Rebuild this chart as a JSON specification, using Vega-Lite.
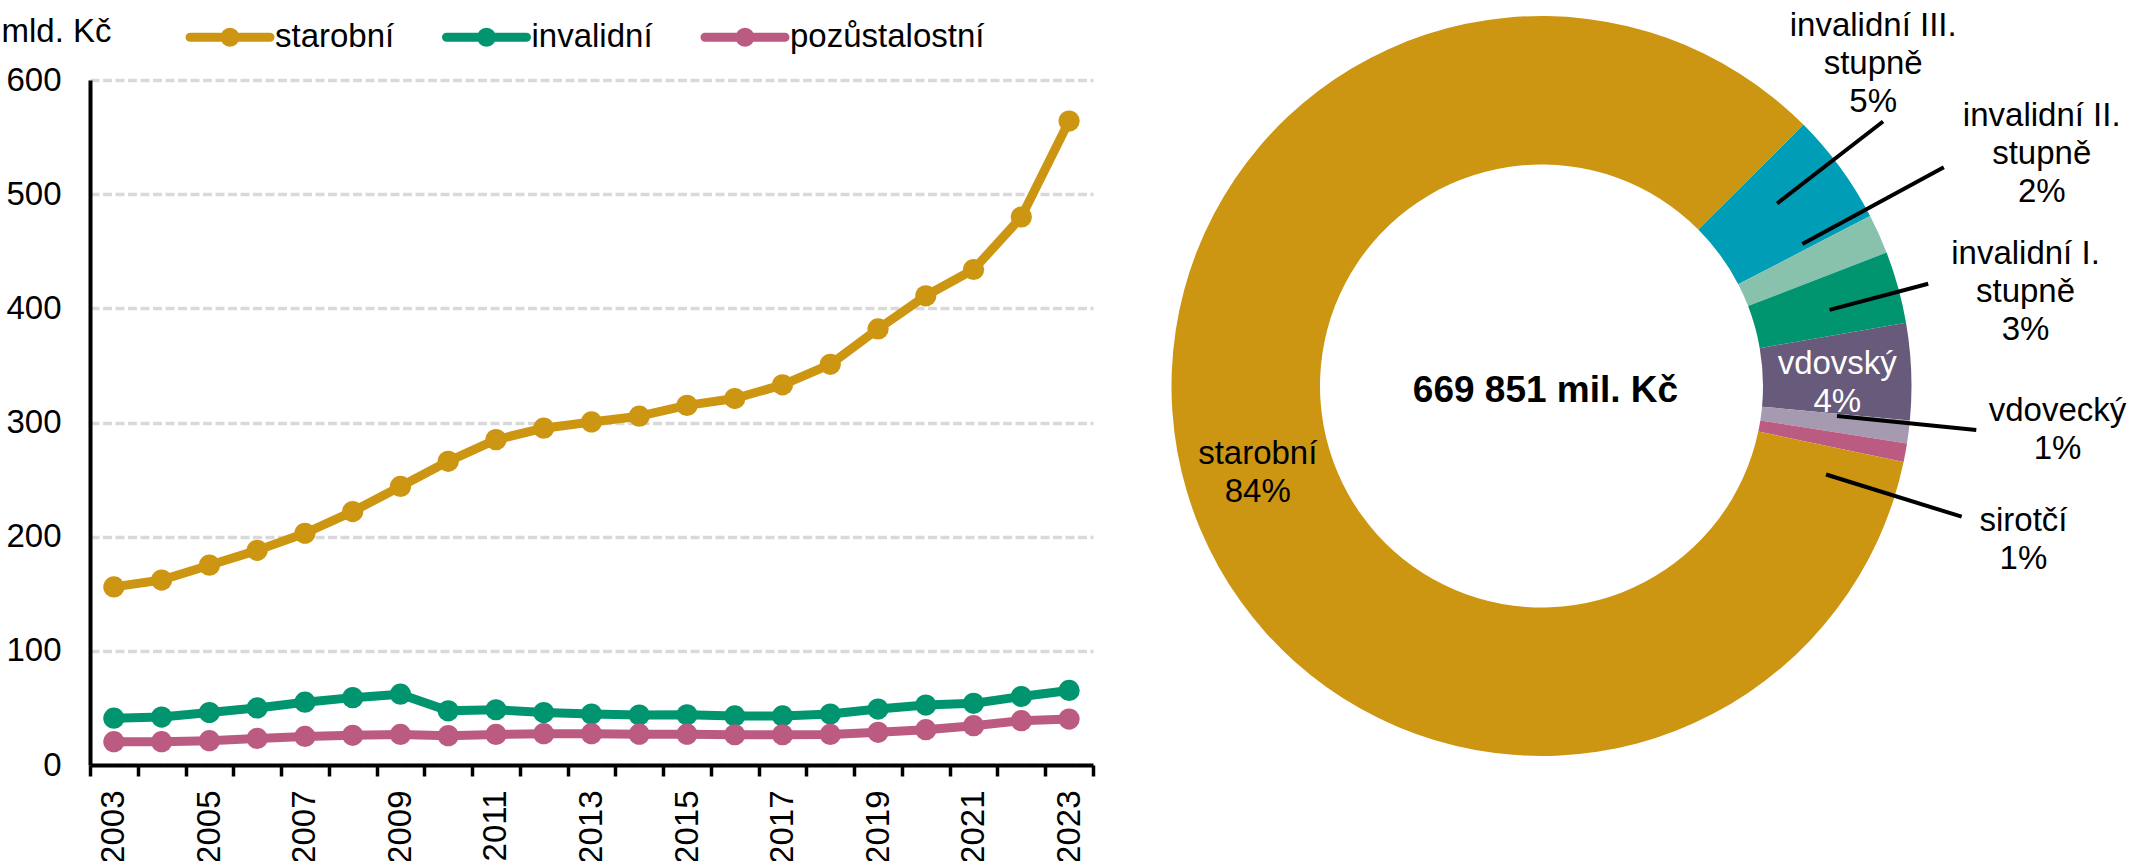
{
  "$schema": "https://vega.github.io/schema/vega-lite/v6.json",
  "padding": {"left": 1, "top": 0, "right": 0, "bottom": 0},
  "background": "white",
  "bounds": "flush",
  "spacing": 1,
  "config": {"font": "Liberation Sans", "view": {"stroke": null}},
  "hconcat": [
    {
      "width": 1003,
      "height": 685,
      "data": {"values": [
        {"rok": 2003, "typ": "starobní", "hodnota": 156}, {"rok": 2003, "typ": "invalidní", "hodnota": 41}, {"rok": 2003, "typ": "pozůstalostní", "hodnota": 20.4},
        {"rok": 2004, "typ": "starobní", "hodnota": 162}, {"rok": 2004, "typ": "invalidní", "hodnota": 42}, {"rok": 2004, "typ": "pozůstalostní", "hodnota": 20.4},
        {"rok": 2005, "typ": "starobní", "hodnota": 175}, {"rok": 2005, "typ": "invalidní", "hodnota": 46}, {"rok": 2005, "typ": "pozůstalostní", "hodnota": 21.3},
        {"rok": 2006, "typ": "starobní", "hodnota": 188}, {"rok": 2006, "typ": "invalidní", "hodnota": 50}, {"rok": 2006, "typ": "pozůstalostní", "hodnota": 23.3},
        {"rok": 2007, "typ": "starobní", "hodnota": 203}, {"rok": 2007, "typ": "invalidní", "hodnota": 55}, {"rok": 2007, "typ": "pozůstalostní", "hodnota": 25},
        {"rok": 2008, "typ": "starobní", "hodnota": 222}, {"rok": 2008, "typ": "invalidní", "hodnota": 59}, {"rok": 2008, "typ": "pozůstalostní", "hodnota": 26},
        {"rok": 2009, "typ": "starobní", "hodnota": 244}, {"rok": 2009, "typ": "invalidní", "hodnota": 62}, {"rok": 2009, "typ": "pozůstalostní", "hodnota": 26.8},
        {"rok": 2010, "typ": "starobní", "hodnota": 266}, {"rok": 2010, "typ": "invalidní", "hodnota": 47.5}, {"rok": 2010, "typ": "pozůstalostní", "hodnota": 25.7},
        {"rok": 2011, "typ": "starobní", "hodnota": 285}, {"rok": 2011, "typ": "invalidní", "hodnota": 48.4}, {"rok": 2011, "typ": "pozůstalostní", "hodnota": 26.8},
        {"rok": 2012, "typ": "starobní", "hodnota": 295}, {"rok": 2012, "typ": "invalidní", "hodnota": 46}, {"rok": 2012, "typ": "pozůstalostní", "hodnota": 27.4},
        {"rok": 2013, "typ": "starobní", "hodnota": 300.5}, {"rok": 2013, "typ": "invalidní", "hodnota": 44.6}, {"rok": 2013, "typ": "pozůstalostní", "hodnota": 27.4},
        {"rok": 2014, "typ": "starobní", "hodnota": 305.5}, {"rok": 2014, "typ": "invalidní", "hodnota": 43.7}, {"rok": 2014, "typ": "pozůstalostní", "hodnota": 27},
        {"rok": 2015, "typ": "starobní", "hodnota": 315}, {"rok": 2015, "typ": "invalidní", "hodnota": 44}, {"rok": 2015, "typ": "pozůstalostní", "hodnota": 27},
        {"rok": 2016, "typ": "starobní", "hodnota": 321}, {"rok": 2016, "typ": "invalidní", "hodnota": 43}, {"rok": 2016, "typ": "pozůstalostní", "hodnota": 26.5},
        {"rok": 2017, "typ": "starobní", "hodnota": 333}, {"rok": 2017, "typ": "invalidní", "hodnota": 43}, {"rok": 2017, "typ": "pozůstalostní", "hodnota": 26.5},
        {"rok": 2018, "typ": "starobní", "hodnota": 351}, {"rok": 2018, "typ": "invalidní", "hodnota": 44.6}, {"rok": 2018, "typ": "pozůstalostní", "hodnota": 26.8},
        {"rok": 2019, "typ": "starobní", "hodnota": 382}, {"rok": 2019, "typ": "invalidní", "hodnota": 49}, {"rok": 2019, "typ": "pozůstalostní", "hodnota": 28.6},
        {"rok": 2020, "typ": "starobní", "hodnota": 411}, {"rok": 2020, "typ": "invalidní", "hodnota": 52.5}, {"rok": 2020, "typ": "pozůstalostní", "hodnota": 30.9},
        {"rok": 2021, "typ": "starobní", "hodnota": 434}, {"rok": 2021, "typ": "invalidní", "hodnota": 54}, {"rok": 2021, "typ": "pozůstalostní", "hodnota": 34.4},
        {"rok": 2022, "typ": "starobní", "hodnota": 480}, {"rok": 2022, "typ": "invalidní", "hodnota": 60}, {"rok": 2022, "typ": "pozůstalostní", "hodnota": 38.8},
        {"rok": 2023, "typ": "starobní", "hodnota": 564}, {"rok": 2023, "typ": "invalidní", "hodnota": 65.3}, {"rok": 2023, "typ": "pozůstalostní", "hodnota": 40.2}
      ]},
      "encoding": {
        "x": {
          "field": "rok", "type": "quantitative",
          "scale": {"domain": [2002.5, 2023.5], "nice": false, "zero": false},
          "axis": {
            "title": null,
            "values": [2002.5, 2003.5, 2004.5, 2005.5, 2006.5, 2007.5, 2008.5, 2009.5, 2010.5, 2011.5, 2012.5, 2013.5, 2014.5, 2015.5, 2016.5, 2017.5, 2018.5, 2019.5, 2020.5, 2021.5, 2022.5, 2023.5],
            "labelExpr": "(datum.value + 0.5) % 2 == 1 ? format(datum.value + 0.5, 'd') : ''",
            "labelAngle": 270, "labelOffset": 23.9, "labelPadding": 14,
            "labelFontSize": 33, "labelColor": "black",
            "labelFlush": false, "labelOverlap": false, "labelBound": false,
            "tickSize": 11, "tickWidth": 3.5, "tickColor": "black",
            "domainColor": "black", "domainWidth": 4, "grid": false
          }
        },
        "y": {
          "field": "hodnota", "type": "quantitative",
          "scale": {"domain": [0, 600], "nice": false},
          "axis": {
            "title": "mld. Kč", "titleAngle": 0, "titleAlign": "left", "titleBaseline": "alphabetic",
            "titleX": -89, "titleY": -39, "titleFontSize": 33, "titleFontWeight": "normal", "titleColor": "black",
            "values": [0, 100, 200, 300, 400, 500, 600],
            "labelFontSize": 33, "labelColor": "black", "labelPadding": 29, "labelFlush": false,
            "ticks": false, "tickSize": 0,
            "domainColor": "black", "domainWidth": 4,
            "grid": true, "gridColor": "#D9D9D9", "gridWidth": 3.5, "gridDash": [9, 3.5]
          }
        },
        "color": {
          "field": "typ", "type": "nominal",
          "scale": {"domain": ["starobní", "invalidní", "pozůstalostní"], "range": ["#CC9613", "#00956F", "#BC5B81"]},
          "legend": {
            "title": null, "orient": "none", "legendX": 119.5, "legendY": -63.5, "direction": "horizontal", "padding": 0,
            "symbolType": "M-2.5,0L2.5,0M0.3125,0A0.3125,0.3125,0,1,1,-0.3125,0A0.3125,0.3125,0,1,1,0.3125,0Z",
            "symbolSize": 1024, "symbolStrokeWidth": 9, "symbolOpacity": 1,
            "labelFontSize": 33, "labelColor": "black", "labelOffset": 24.5, "columnPadding": 33.5, "labelLimit": 400,
            "encode": {"symbols": {"update": {
              "fill": {"scale": "color", "field": "value"},
              "stroke": {"scale": "color", "field": "value"},
              "strokeCap": {"value": "round"}
            }}}
          }
        }
      },
      "layer": [
        {"mark": {"type": "line", "strokeWidth": 9, "strokeJoin": "round"}},
        {"mark": {"type": "point", "filled": true, "size": 450, "opacity": 1}}
      ]
    },
    {
      "width": 895,
      "height": 612,
      "data": {"values": [
        {"druh": "invalidní III. stupně", "hodnota": 32750, "poradi": 1, "popisek": "invalidní III.\nstupně\n5%"},
        {"druh": "invalidní II. stupně", "hodnota": 11540, "poradi": 2, "popisek": "invalidní II.\nstupně\n2%"},
        {"druh": "invalidní I. stupně", "hodnota": 21030, "poradi": 3, "popisek": "invalidní I.\nstupně\n3%"},
        {"druh": "vdovský", "hodnota": 28280, "poradi": 4, "popisek": "vdovský\n4%"},
        {"druh": "vdovecký", "hodnota": 6700, "poradi": 5, "popisek": "vdovecký\n1%"},
        {"druh": "sirotčí", "hodnota": 5400, "poradi": 6, "popisek": "sirotčí\n1%"},
        {"druh": "starobní", "hodnota": 564151, "poradi": 7, "popisek": "starobní\n84%"}
      ]},
      "layer": [
        {
          "mark": {"type": "arc", "radius": 370, "radius2": 221.5},
          "encoding": {
            "theta": {"field": "hodnota", "type": "quantitative", "stack": true, "scale": {"range": [0.78627, 7.06946], "nice": false}},
            "order": {"field": "poradi", "type": "quantitative"},
            "detail": {"field": "druh", "type": "nominal"},
            "fill": {"field": "druh", "type": "nominal", "legend": null,
              "scale": {"domain": ["invalidní III. stupně", "invalidní II. stupně", "invalidní I. stupně", "vdovský", "vdovecký", "sirotčí", "starobní"],
                        "range": ["#009DB6", "#88C2AC", "#00956F", "#675A7B", "#A69AB1", "#BC5B81", "#CC9613"]}}
          }
        },
        {
          "transform": [
            {"stack": "hodnota", "groupby": [], "sort": [{"field": "poradi", "order": "ascending"}], "as": ["zacatek", "konec"]},
            {"filter": "datum.druh === 'invalidní III. stupně'"}
          ],
          "mark": {"type": "arc", "radius": 432, "radius2": 298, "padAngle": 1.5, "stroke": "black", "strokeWidth": 4, "fillOpacity": 0, "thetaOffset": -0.028, "theta2Offset": -0.028},
          "encoding": {
            "theta": {"field": "zacatek", "type": "quantitative", "stack": null},
            "theta2": {"field": "konec"}
          }
        },
        {
          "transform": [
            {"stack": "hodnota", "groupby": [], "sort": [{"field": "poradi", "order": "ascending"}], "as": ["zacatek", "konec"]},
            {"filter": "datum.druh === 'invalidní II. stupně'"}
          ],
          "mark": {"type": "arc", "radius": 458, "radius2": 297, "padAngle": 1.5, "stroke": "black", "strokeWidth": 4, "fillOpacity": 0, "thetaOffset": -0.075, "theta2Offset": -0.075},
          "encoding": {
            "theta": {"field": "zacatek", "type": "quantitative", "stack": null},
            "theta2": {"field": "konec"}
          }
        },
        {
          "transform": [
            {"stack": "hodnota", "groupby": [], "sort": [{"field": "poradi", "order": "ascending"}], "as": ["zacatek", "konec"]},
            {"filter": "datum.druh === 'invalidní I. stupně'"}
          ],
          "mark": {"type": "arc", "radius": 400, "radius2": 298, "padAngle": 1.5, "stroke": "black", "strokeWidth": 4, "fillOpacity": 0, "thetaOffset": 0.012, "theta2Offset": 0.012},
          "encoding": {
            "theta": {"field": "zacatek", "type": "quantitative", "stack": null},
            "theta2": {"field": "konec"}
          }
        },
        {
          "transform": [
            {"stack": "hodnota", "groupby": [], "sort": [{"field": "poradi", "order": "ascending"}], "as": ["zacatek", "konec"]},
            {"filter": "datum.druh === 'vdovecký'"}
          ],
          "mark": {"type": "arc", "radius": 437, "radius2": 297, "padAngle": 1.5, "stroke": "black", "strokeWidth": 4, "fillOpacity": 0, "thetaOffset": -0.024, "theta2Offset": -0.024},
          "encoding": {
            "theta": {"field": "zacatek", "type": "quantitative", "stack": null},
            "theta2": {"field": "konec"}
          }
        },
        {
          "transform": [
            {"stack": "hodnota", "groupby": [], "sort": [{"field": "poradi", "order": "ascending"}], "as": ["zacatek", "konec"]},
            {"filter": "datum.druh === 'sirotčí'"}
          ],
          "mark": {"type": "arc", "radius": 440, "radius2": 298, "padAngle": 1.5, "stroke": "black", "strokeWidth": 4, "fillOpacity": 0, "thetaOffset": 0.12, "theta2Offset": 0.12},
          "encoding": {
            "theta": {"field": "zacatek", "type": "quantitative", "stack": null},
            "theta2": {"field": "konec"}
          }
        },
        {
          "mark": {"type": "text", "radius": 296, "dy": -16, "fontSize": 33, "lineBreak": "\n", "lineHeight": 38, "align": "center", "baseline": "middle", "color": "black"},
          "encoding": {
            "theta": {"field": "hodnota", "type": "quantitative", "stack": true},
            "order": {"field": "poradi", "type": "quantitative"},
            "detail": {"field": "druh", "type": "nominal"},
            "text": {"condition": {"test": "datum.druh === 'starobní'", "field": "popisek", "type": "nominal"}, "value": ""}
          }
        },
        {
          "mark": {"type": "text", "radius": 296, "dy": -10, "fontSize": 33, "lineBreak": "\n", "lineHeight": 38, "align": "center", "baseline": "middle", "color": "white"},
          "encoding": {
            "theta": {"field": "hodnota", "type": "quantitative", "stack": true},
            "order": {"field": "poradi", "type": "quantitative"},
            "detail": {"field": "druh", "type": "nominal"},
            "text": {"condition": {"test": "datum.druh === 'vdovský'", "field": "popisek", "type": "nominal"}, "value": ""}
          }
        },
        {
          "mark": {"type": "text", "radius": 463.9, "dx": -42.9, "dy": -86, "fontSize": 33, "lineBreak": "\n", "lineHeight": 38, "align": "center", "baseline": "middle", "color": "black"},
          "encoding": {
            "theta": {"field": "hodnota", "type": "quantitative", "stack": true},
            "order": {"field": "poradi", "type": "quantitative"},
            "detail": {"field": "druh", "type": "nominal"},
            "text": {"condition": {"test": "datum.druh === 'invalidní III. stupně'", "field": "popisek", "type": "nominal"}, "value": ""}
          }
        },
        {
          "mark": {"type": "text", "radius": 552.7, "dx": -3.7, "dy": -43.3, "fontSize": 33, "lineBreak": "\n", "lineHeight": 38, "align": "center", "baseline": "middle", "color": "black"},
          "encoding": {
            "theta": {"field": "hodnota", "type": "quantitative", "stack": true},
            "order": {"field": "poradi", "type": "quantitative"},
            "detail": {"field": "druh", "type": "nominal"},
            "text": {"condition": {"test": "datum.druh === 'invalidní II. stupně'", "field": "popisek", "type": "nominal"}, "value": ""}
          }
        },
        {
          "mark": {"type": "text", "radius": 492.1, "dx": 9.8, "dy": -0.5, "fontSize": 33, "lineBreak": "\n", "lineHeight": 38, "align": "center", "baseline": "middle", "color": "black"},
          "encoding": {
            "theta": {"field": "hodnota", "type": "quantitative", "stack": true},
            "order": {"field": "poradi", "type": "quantitative"},
            "detail": {"field": "druh", "type": "nominal"},
            "text": {"condition": {"test": "datum.druh === 'invalidní I. stupně'", "field": "popisek", "type": "nominal"}, "value": ""}
          }
        },
        {
          "mark": {"type": "text", "radius": 516.9, "dx": 3.1, "dy": -39.5, "fontSize": 33, "lineBreak": "\n", "lineHeight": 38, "align": "center", "baseline": "middle", "color": "black"},
          "encoding": {
            "theta": {"field": "hodnota", "type": "quantitative", "stack": true},
            "order": {"field": "poradi", "type": "quantitative"},
            "detail": {"field": "druh", "type": "nominal"},
            "text": {"condition": {"test": "datum.druh === 'vdovecký'", "field": "popisek", "type": "nominal"}, "value": ""}
          }
        },
        {
          "mark": {"type": "text", "radius": 501.5, "dx": -11.3, "dy": 44, "fontSize": 33, "lineBreak": "\n", "lineHeight": 38, "align": "center", "baseline": "middle", "color": "black"},
          "encoding": {
            "theta": {"field": "hodnota", "type": "quantitative", "stack": true},
            "order": {"field": "poradi", "type": "quantitative"},
            "detail": {"field": "druh", "type": "nominal"},
            "text": {"condition": {"test": "datum.druh === 'sirotčí'", "field": "popisek", "type": "nominal"}, "value": ""}
          }
        },
        {
          "data": {"values": [{"celkem": "669 851 mil. Kč"}]},
          "mark": {"type": "text", "fontSize": 37, "fontWeight": "bold", "dx": 4, "dy": 5, "align": "center", "baseline": "middle", "color": "black"},
          "encoding": {"text": {"field": "celkem", "type": "nominal"}}
        }
      ]
    }
  ]
}
